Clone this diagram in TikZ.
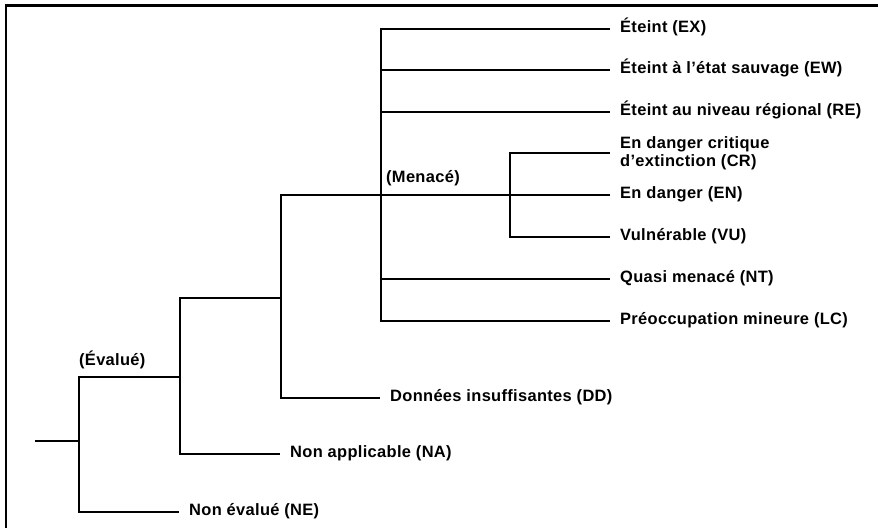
\documentclass[tikz,border=0pt]{standalone}
\usepackage{fontspec}
\setmainfont{Liberation Sans}[LetterSpace=2]
\begin{document}
\begin{tikzpicture}[x=1bp,y=-1bp,
  tree/.style={line width=1.2bp,line cap=rect},
  labfont/.style={font=\bfseries\fontsize{16.5}{18}\selectfont},
  leaf/.style={labfont,anchor=west,inner xsep=11bp,inner ysep=0pt,text height=0.72em,text depth=0pt},
  twoleaf/.style={labfont,anchor=west,inner xsep=11bp,inner ysep=0pt,align=left},
  grp/.style={labfont,anchor=base west,inner sep=0pt}]
\useasboundingbox (0,0) rectangle (878,528);
\draw[line width=2.6bp] (6,540) -- (6,5.5) -- (890,5.5);
% junctions
\coordinate (r) at (36,441);
\coordinate (a) at (79,441);
\coordinate (b) at (180,377);
\coordinate (c) at (281,298);
\coordinate (d) at (381,195);
\coordinate (e) at (510,195);
% leaves
\node[leaf] (ne) at (178,512) {Non évalué (NE)};
\node[leaf] (na) at (279,454) {Non applicable (NA)};
\node[leaf] (dd) at (379,398) {Données insuffisantes (DD)};
\node[leaf] (ex) at (609,29) {Éteint (EX)};
\node[leaf] (ew) at (609,70) {Éteint à l’état sauvage (EW)};
\node[leaf] (re) at (609,112) {Éteint au niveau régional (RE)};
\node[twoleaf] (cr) at (609,153) {En danger critique\\d’extinction (CR)};
\node[leaf] (en) at (609,195) {En danger (EN)};
\node[leaf] (vu) at (609,237) {Vulnérable (VU)};
\node[leaf] (nt) at (609,279) {Quasi menacé (NT)};
\node[leaf] (lc) at (609,321) {Préoccupation mineure (LC)};
% group labels
\node[grp] (evl) at (79,365) {(Évalué)};
\node[grp] (men) at (386,183) {(Menacé)};
% connectors
\draw[tree] (r) -- (a);
\draw[tree] (b) -| (a) |- (ne.west);
\draw[tree] (c) -| (b) |- (na.west);
\draw[tree] (d) -| (c) |- (dd.west);
\draw[tree] (ex.west) -| (d) |- (lc.west);
\draw[tree] (d |- ew.west) -- (ew.west);
\draw[tree] (d |- re.west) -- (re.west);
\draw[tree] (d |- nt.west) -- (nt.west);
\draw[tree] (d) -- (en.west);
\draw[tree] (cr.west) -| (e) |- (vu.west);
\end{tikzpicture}
\end{document}
